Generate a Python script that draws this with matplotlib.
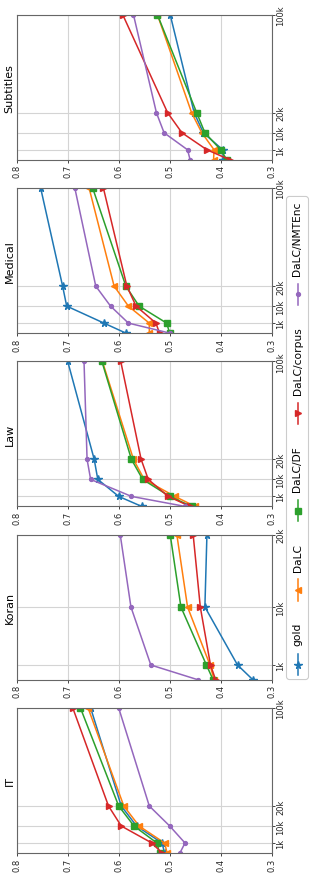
import numpy as np
import matplotlib
matplotlib.use('Agg')
import matplotlib.pyplot as plt
from matplotlib.lines import Line2D
from matplotlib.patches import FancyBboxPatch

plt.rcParams['font.family'] = 'DejaVu Sans'

# data (figure is drawn rotated: score runs right-to-left, training size bottom-to-top)
domains = ['IT', 'Koran', 'Law', 'Medical', 'Subtitles']
methods = ['gold', 'DaLC', 'DaLC/DF', 'DaLC/corpus', 'DaLC/NMTEnc']
colors = ['#1f77b4', '#ff7f0e', '#2ca02c', '#d62728', '#9467bd']
markers = ['*', '<', 's', '>', 'o']
msizes = [5.5, 4.5, 4, 4.5, 2.8]

sizes = [500, 1000, 10000, 20000, 100000]
sizes_koran = [500, 1000, 10000, 20000]
size_ticks = [1000, 10000, 20000, 100000]
size_labels = ['1k', '10k', '20k', '100k']
score_ticks = [0.8, 0.7, 0.6, 0.5, 0.4, 0.3]

it_scores = [
    [0.510, 0.515, 0.565, 0.595, 0.655],
    [0.505, 0.510, 0.560, 0.590, 0.660],
    [0.520, 0.525, 0.570, 0.600, 0.675],
    [0.515, 0.535, 0.595, 0.620, 0.690],
    [0.480, 0.470, 0.500, 0.540, 0.600],
]
koran_scores = [
    [0.337, 0.367, 0.431, 0.427],
    [0.413, 0.421, 0.465, 0.486],
    [0.415, 0.428, 0.478, 0.499],
    [0.410, 0.420, 0.440, 0.454],
    [0.445, 0.537, 0.576, 0.597],
]
law_scores = [
    [0.555, 0.600, 0.641, 0.648, 0.700],
    [0.450, 0.490, 0.550, 0.571, 0.632],
    [0.457, 0.500, 0.553, 0.575, 0.633],
    [0.460, 0.503, 0.542, 0.556, 0.596],
    [0.470, 0.575, 0.655, 0.662, 0.668],
]
medical_scores = [
    [0.586, 0.629, 0.702, 0.710, 0.753],
    [0.540, 0.540, 0.581, 0.609, 0.658],
    [0.500, 0.506, 0.560, 0.586, 0.651],
    [0.520, 0.527, 0.566, 0.584, 0.630],
    [0.500, 0.581, 0.616, 0.645, 0.686],
]
subtitles_scores = [
    [0.395, 0.396, 0.434, 0.452, 0.499],
    [0.414, 0.413, 0.437, 0.457, 0.524],
    [0.388, 0.400, 0.431, 0.447, 0.524],
    [0.382, 0.427, 0.476, 0.504, 0.592],
    [0.460, 0.465, 0.511, 0.526, 0.571],
]
all_scores = [it_scores, koran_scores, law_scores, medical_scores, subtitles_scores]

# spacing of the size axis (same uneven spacing as the original)
knots = [500, 1000, 10000, 20000, 100000]
knot_pos = [0, 10, 27, 47, 145]
knots_koran = [500, 1000, 10000, 20000]
knot_pos_koran = [0, 14.7, 72.7, 145]


def make_scale(k, p):
    return (lambda v: np.interp(v, k, p), lambda v: np.interp(v, p, k))


W, H = 313, 878
fig = plt.figure(figsize=(W / 100, H / 100), dpi=100)

for i, dom in enumerate(domains):
    ax = fig.add_axes([16.7 / W, (24 + i * 173.3) / H, 255 / W, 145 / H])
    koran = dom == 'Koran'
    xs = sizes_koran if koran else sizes
    if koran:
        ax.set_yscale('function', functions=make_scale(knots_koran, knot_pos_koran))
    else:
        ax.set_yscale('function', functions=make_scale(knots, knot_pos))
    for j in range(len(methods)):
        ax.plot(all_scores[i][j], xs, color=colors[j], marker=markers[j],
                ms=msizes[j], lw=1.1, label=methods[j])
    ax.set_xlim(score_ticks[0], score_ticks[-1])
    ax.set_ylim(xs[0], xs[-1])
    ax.set_xticks(score_ticks)
    ax.set_xticklabels([f'{t:.1f}' for t in score_ticks], rotation=90, fontsize=6)
    yt = [t for t in size_ticks if t <= xs[-1]]
    ax.set_yticks(yt)
    ax.set_yticklabels(size_labels[:len(yt)], rotation=90, fontsize=6, va='center')
    ax.yaxis.tick_right()
    ax.tick_params(length=2.2, width=0.6, pad=1, colors='0.15')
    ax.grid(True, color='#d4d4d4', lw=0.8)
    for s in ax.spines.values():
        s.set_color('0.4')
        s.set_linewidth(0.8)
    ax.text((9.5 - 16.7) / 255, 0.5, dom, transform=ax.transAxes, rotation=90,
            ha='center', va='center', fontsize=8)

# legend drawn by hand so it can run along the rotated figure
fs_leg = 7.7
em = fs_leg / 72
renderer = fig.canvas.get_renderer()
texts, lens = [], []
for m in methods:
    t = fig.text(0, 0, m, fontsize=fs_leg, rotation=90, ha='center', va='bottom',
                 transform=fig.dpi_scale_trans)
    texts.append(t)
    lens.append(t.get_window_extent(renderer).height / fig.dpi)
hl, tp, cs, bp = 2.0 * em, 0.8 * em, 2.0 * em, 0.4 * em
total = 5 * (hl + tp) + sum(lens) + 4 * cs
xc = 297.5 / 100
y0 = H / 200 - total / 2
y = y0
for j in range(len(methods)):
    fig.add_artist(Line2D([xc, xc], [y, y + hl], color=colors[j], lw=1.1,
                          transform=fig.dpi_scale_trans))
    fig.add_artist(Line2D([xc], [y + hl / 2], color=colors[j], marker=markers[j],
                          ms=msizes[j], transform=fig.dpi_scale_trans))
    y += hl + tp
    texts[j].set_position((xc, y))
    y += lens[j] + cs
wbox = 0.22
frame = FancyBboxPatch((xc - wbox / 2, y0 - bp), wbox, total + 2 * bp,
                       boxstyle='round,pad=0,rounding_size=0.03',
                       transform=fig.dpi_scale_trans, fc='white', ec='0.8', lw=0.8,
                       zorder=-1)
fig.add_artist(frame)

fig.savefig('out.png', dpi=100)
